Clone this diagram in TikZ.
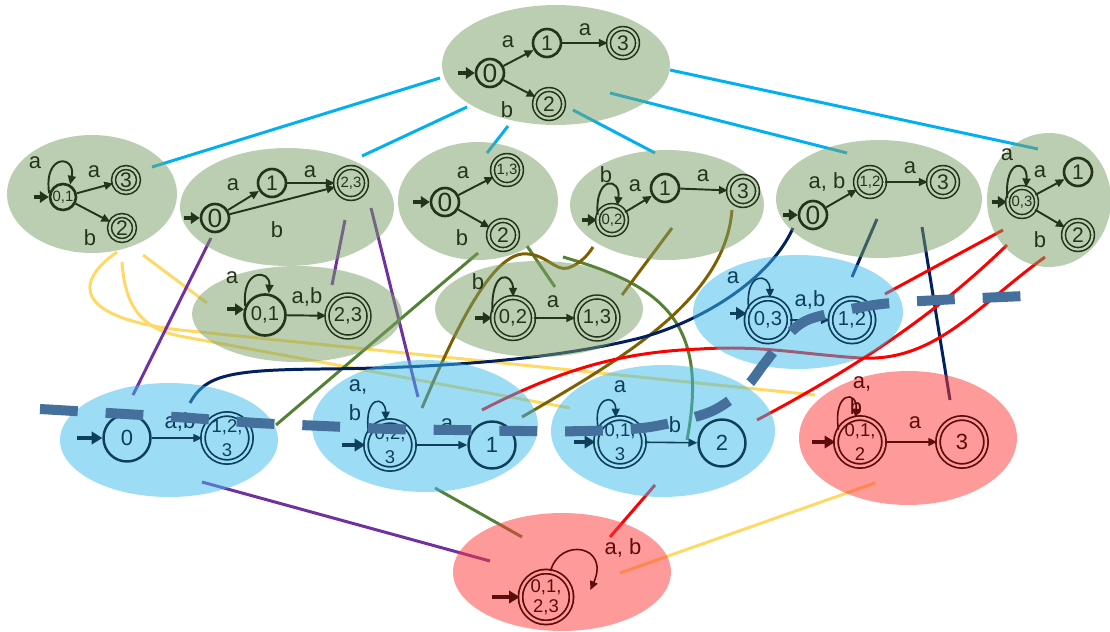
\documentclass[tikz,border=0pt]{standalone}
\usepackage{fontspec}
\setmainfont{Liberation Sans}
\usetikzlibrary{arrows.meta,shapes.geometric}
\definecolor{gfill}{RGB}{123,159,103}
\definecolor{bfill}{RGB}{61,187,237}
\definecolor{rfill}{RGB}{255,55,55}
\definecolor{gvis}{RGB}{189,207,179}
\definecolor{bvis}{RGB}{158,221,246}
\definecolor{rvis}{RGB}{255,155,155}
\definecolor{gdark}{RGB}{36,52,26}
\definecolor{bdark}{RGB}{14,63,90}
\definecolor{rdark}{RGB}{94,11,11}
\definecolor{ccyan}{RGB}{0,176,240}
\definecolor{cyel}{RGB}{255,217,102}
\definecolor{cpur}{RGB}{112,48,160}
\definecolor{cgrn}{RGB}{84,130,53}
\definecolor{cbrn}{RGB}{127,96,0}
\definecolor{cnavy}{RGB}{0,32,96}
\definecolor{cred}{RGB}{255,0,0}
\definecolor{cdash}{RGB}{70,112,156}
\begin{document}
\begin{tikzpicture}[x=0.02cm,y=-0.02cm,
  gblob/.style={ellipse, draw=none, fill=gfill, fill opacity=0.5, inner sep=0pt},
  bblob/.style={ellipse, draw=none, fill=bfill, fill opacity=0.5, inner sep=0pt},
  rblob/.style={ellipse, draw=none, fill=rfill, fill opacity=0.5, inner sep=0pt},
  gs/.style={circle, draw=gdark, line width=1.5pt, inner sep=0pt, minimum size=0.56cm, text=gdark, font=\fontsize{12}{12}\selectfont},
  ga/.style={gs, double=gvis, line width=0.9pt, double distance=1.3pt, minimum size=0.58cm},
  gbig/.style={font=\fontsize{15}{15}\selectfont},
  gsm/.style={font=\fontsize{8.5}{9}\selectfont},
  gmid/.style={font=\fontsize{11.5}{12}\selectfont},
  ge/.style={draw=gdark, line width=1.1pt, -{Triangle[length=5pt,width=4.5pt]}},
  gstart/.style={draw=gdark, line width=2.3pt, -{Triangle[length=5pt,width=6.5pt]}},
  gl/.style={text=gdark, inner sep=0pt, font=\fontsize{12.5}{13}\selectfont},
  bs/.style={circle, draw=bdark, line width=1.4pt, inner sep=0pt, minimum size=0.94cm, text=bdark, font=\fontsize{12.5}{13}\selectfont},
  ba/.style={bs, double=bvis, line width=1pt, double distance=1.4pt, minimum size=0.96cm},
  be/.style={draw=bdark, line width=0.9pt, -{Triangle[length=5pt,width=4.5pt]}},
  bstart/.style={draw=bdark, line width=2pt, -{Triangle[length=6pt,width=7pt]}},
  bl/.style={text=bdark, inner sep=0pt, font=\fontsize{12.5}{13}\selectfont},
  rs/.style={circle, draw=rdark, line width=1.4pt, inner sep=0pt, minimum size=0.94cm, text=rdark, font=\fontsize{12.5}{13}\selectfont},
  ra/.style={rs, double=rvis, line width=1pt, double distance=1.4pt, minimum size=0.96cm},
  re/.style={draw=rdark, line width=0.9pt, -{Triangle[length=5pt,width=4.5pt]}},
  rstart/.style={draw=rdark, line width=2pt, -{Triangle[length=6pt,width=7pt]}},
  rl/.style={text=rdark, inner sep=0pt, font=\fontsize{12.5}{13}\selectfont},
  mtxt/.style={align=center, inner sep=0pt, font=\fontsize{10.5}{14}\selectfont},
  conn/.style={line width=1.7pt},
  bar/.style={draw=cdash, line width=5.7pt, dash pattern=on 21.5pt off 15.9pt}
]
\useasboundingbox (0,0) rectangle (1110,632);
\fill[white] (0,0) rectangle (1110,632);

% ---------- connectors (under the ellipses) ----------
\draw[conn, ccyan] (440,78) -- (152,167);
\draw[conn, ccyan] (467,107) -- (362,156);
\draw[conn, ccyan] (508,126) -- (487,153);
\draw[conn, ccyan] (573,110) -- (655,153);
\draw[conn, ccyan] (610,93) -- (847,153);
\draw[conn, ccyan] (670,70) -- (1038,149);

\draw[conn, cyel] (117,252) .. controls (70,285) and (80,318) .. (180,330) -- (815,395);
\draw[conn, cyel] (122,262) .. controls (125,305) and (140,330) .. (185,337) -- (570,408);
\draw[conn, cyel] (143,255) -- (207,303);
\draw[conn, cyel] (620,573) -- (875,483);

\draw[conn, cpur] (211,238) -- (133,395);
\draw[conn, cpur] (345,220) -- (332,285);
\draw[conn, cpur] (371,208) -- (418,397);
\draw[conn, cpur] (202,482) -- (490,561);

\draw[conn, cgrn] (276,425) -- (478,253);
\draw[conn, cgrn] (527,246) -- (555,287);
\draw[conn, cgrn] (563,257) .. controls (660,285) and (710,320) .. (687,440);
\draw[conn, cgrn] (435,488) -- (522,537);

\draw[conn, cbrn] (422,408) .. controls (455,330) and (490,258) .. (522,254) .. controls (545,252) and (555,272) .. (568,268) .. controls (580,264) and (588,255) .. (593,247);
\draw[conn, cbrn] (672,228) -- (622,295);
\draw[conn, cbrn] (732,210) .. controls (725,300) and (620,360) .. (522,417);

\draw[conn, cnavy] (190,403) .. controls (205,375) and (230,370) .. (320,369) .. controls (450,368) and (560,358) .. (640,338) .. controls (700,322) and (770,280) .. (793,228);
\draw[conn, cnavy] (877,219) -- (852,277);
\draw[conn, cnavy] (922,227) -- (950,400);

\draw[conn, cred] (1003,230) -- (885,294);
\draw[conn, cred] (1007,245) .. controls (950,300) and (880,355) .. (757,420);
\draw[conn, cred] (1045,257) .. controls (975,308) and (935,362) .. (860,358) .. controls (800,354) and (760,345) .. (700,349) .. controls (620,352) and (560,370) .. (482,410);
\draw[conn, cred] (655,485) -- (610,537);

% ---------- ellipses ----------
\node[gblob, minimum width=4.56cm, minimum height=2.4cm] (E1) at (556,65) {};
\node[gblob, minimum width=3.4cm, minimum height=2.36cm] (E2) at (92,194) {};
\node[gblob, minimum width=4.28cm, minimum height=2.36cm] (E3) at (287,207) {};
\node[gblob, minimum width=3.2cm, minimum height=2.36cm] (E4) at (478,201) {};
\node[gblob, minimum width=3.88cm, minimum height=2.2cm] (E5) at (667,205) {};
\node[gblob, minimum width=4.12cm, minimum height=2.36cm] (E6) at (879,199) {};
\node[gblob, minimum width=2.48cm, minimum height=2.68cm] (E7) at (1049,200) {};
\node[gblob, minimum width=4.2cm, minimum height=1.92cm] (E8) at (297,314) {};
\node[gblob, minimum width=4.16cm, minimum height=1.92cm] (E9) at (539,309) {};
\node[bblob, minimum width=4.2cm, minimum height=2.28cm] (E10) at (798,312) {};
\node[bblob, minimum width=4.36cm, minimum height=2.28cm] (E11) at (169,440) {};
\node[bblob, minimum width=4.52cm, minimum height=2.64cm] (E12) at (425,426) {};
\node[bblob, minimum width=4.48cm, minimum height=2.64cm] (E13) at (663,431) {};
\node[rblob, minimum width=4.36cm, minimum height=2.68cm] (E14) at (908,438) {};
\node[rblob, minimum width=4.36cm, minimum height=2.36cm] (E15) at (562,572) {};

% ---------- E1 ----------
\node[gs, gbig] (a0) at (490,73) {0};
\node[gs] (a1) at (547,43) {1};
\node[ga] (a3) at (623,43) {3};
\node[ga] (a2) at (549,104) {2};
\draw[gstart] ([xshift=-0.34cm]a0.west) -- (a0);
\draw[ge] (a0) -- (a1);
\draw[ge] (a1) -- (a3);
\draw[ge] (a0) -- (a2);
\node[gl] (la1) at (508,42) {a};
\node[gl] (la2) at (585,30) {a};
\node[gl] (la3) at (507,110) {b};

% ---------- E2 ----------
\node[gs, gsm, minimum size=0.52cm] (b01) at (63,197) {0,1};
\node[ga, minimum size=0.5cm] (b3) at (126,180) {3};
\node[ga, minimum size=0.5cm] (b2) at (122,228) {2};
\draw[gstart] ([xshift=-0.3cm]b01.west) -- (b01);
\draw[ge] (b01.165) .. controls +(-6,-40) and +(6,-30) .. (b01.60);
\draw[ge] (b01) -- (b3);
\draw[ge] (b01) -- (b2);
\node[gl] (lb1) at (35,163) {a};
\node[gl] (lb2) at (94,172) {a};
\node[gl] (lb3) at (90,238) {b};

% ---------- E3 ----------
\node[gs, gbig] (c0) at (215,218) {0};
\node[gs] (c1) at (272,183) {1};
\node[ga, gsm, minimum size=0.62cm] (c23) at (351,183) {2,3};
\draw[gstart] ([xshift=-0.32cm]c0.west) -- (c0);
\draw[ge] (c0) -- (c1);
\draw[ge] (c1) -- (c23);
\draw[ge] (c0) -- (c23);
\node[gl] (lc1) at (233,185) {a};
\node[gl] (lc2) at (310,172) {a};
\node[gl] (lc3) at (277,230) {b};

% ---------- E4 ----------
\node[gs, gbig] (d0) at (445,202) {0};
\node[ga, gsm] (d13) at (507,170) {1,3};
\node[ga] (d2) at (503,235) {2};
\draw[gstart] ([xshift=-0.34cm]d0.west) -- (d0);
\draw[ge] (d0) -- (d13);
\draw[ge] (d0) -- (d2);
\node[gl] (ld1) at (463,173) {a};
\node[gl] (ld2) at (462,238) {b};

% ---------- E5 ----------
\node[ga, gsm] (e02) at (612,220) {0,2};
\node[gs] (e1) at (665,188) {1};
\node[ga] (e3) at (743,191) {3};
\draw[gstart] ([xshift=-0.3cm]e02.west) -- (e02);
\draw[ge] (e02.160) .. controls +(-3,-40) and +(4,-28) .. (e02.70);
\draw[ge] (e02) -- (e1);
\draw[ge] (e1) -- (e3);
\node[gl] (le1) at (606,175) {b};
\node[gl] (le2) at (635,186) {a};
\node[gl] (le3) at (703,176) {a};

% ---------- E6 ----------
\node[gs, gbig] (f0) at (813,215) {0};
\node[ga, gsm] (f12) at (870,182) {1,2};
\node[ga] (f3) at (943,182) {3};
\draw[gstart] ([xshift=-0.3cm]f0.west) -- (f0);
\draw[ge] (f0) -- (f12);
\draw[ge] (f12) -- (f3);
\node[gl] (lf1) at (827,182) {a, b};
\node[gl] (lf2) at (910,168) {a};

% ---------- E7 ----------
\node[ga, gsm] (h03) at (1022,202) {0,3};
\node[gs] (h1) at (1078,172) {1};
\node[ga] (h2) at (1078,235) {2};
\draw[gstart] ([xshift=-0.3cm]h03.west) -- (h03);
\draw[ge] (h03.165) .. controls +(-3,-40) and +(2,-28) .. (h03.75);
\draw[ge] (h03) -- (h1);
\draw[ge] (h03) -- (h2);
\node[gl] (lh1) at (1007,155) {a};
\node[gl] (lh2) at (1040,172) {a};
\node[gl] (lh3) at (1040,240) {b};

% ---------- E8 ----------
\node[gs, gmid, minimum size=0.82cm] (i01) at (265,315) {0,1};
\node[ga, gmid, minimum size=0.84cm] (i23) at (348,316) {2,3};
\draw[gstart] ([xshift=-0.34cm]i01.165) -- (i01.165);
\draw[ge] (i01.155) .. controls +(-4,-38) and +(2,-24) .. (i01.80);
\draw[ge] (i01) -- (i23);
\node[gl] (li1) at (232,278) {a};
\node[gl] (li2) at (307,297) {a,b};

% ---------- E9 ----------
\node[ga, gmid, minimum size=0.82cm] (j02) at (513,318) {0,2};
\node[ga, gmid, minimum size=0.84cm] (j13) at (597,318) {1,3};
\draw[gstart] ([xshift=-0.34cm]j02.west) -- (j02);
\draw[ge] (j02.165) .. controls +(-2,-45) and +(0,-24) .. (j02.90);
\draw[ge] (j02) -- (j13);
\node[gl] (lj1) at (478,282) {b};
\node[gl] (lj2) at (553,302) {a};

% ---------- E10 ----------
\node[ba, font=\fontsize{11.5}{12}\selectfont, minimum size=0.86cm] (k03) at (768,320) {0,3};
\node[ba, font=\fontsize{11.5}{12}\selectfont, minimum size=0.86cm] (k12) at (852,320) {1,2};
\draw[bstart] ([xshift=-0.34cm]k03.163) -- (k03.163);
\draw[be] (k03.150) .. controls +(-4,-38) and +(0,-25) .. (k03.85);
\draw[be] (k03) -- (k12);
\node[bl] (lk1) at (733,278) {a};
\node[bl] (lk2) at (810,300) {a,b};

% ---------- E11 ----------
\node[bs] (m0) at (127,438) {0};
\node[ba] (m123) at (227,438) {};
\node[mtxt, text=bdark] (m123t) at (m123) {1,2,\\3};
\draw[bstart] ([xshift=-0.5cm]m0.west) -- (m0);
\draw[be] (m0) -- (m123);
\node[bl] (lm1) at (180,422) {a,b};

% ---------- E12 ----------
\node[ba] (n023) at (390,445) {};
\node[mtxt, text=bdark] (n023t) at (n023) {0,2,\\3};
\node[bs] (n1) at (492,445) {1};
\draw[bstart] ([xshift=-0.46cm]n023.west) -- (n023);
\draw[be] (n023.150) .. controls +(-5,-38) and +(0,-25) .. (n023.100);
\draw[be] (n023) -- (n1);
\node[bl] (ln1) at (358,387) {a,};
\node[bl] (ln2) at (355,413) {b};
\node[bl] (ln3) at (447,425) {a};

% ---------- E13 ----------
\node[ba] (o013) at (620,442) {};
\node[mtxt, text=bdark] (o013t) at (o013) {0,1,\\3};
\node[bs] (o2) at (722,443) {2};
\draw[bstart] ([xshift=-0.42cm]o013.west) -- (o013);
\draw[be] (o013.150) .. controls +(-7,-33) and +(0,-25) .. (o013.100);
\draw[be] (o013) -- (o2);
\node[bl] (lo1) at (620,387) {a};
\node[bl] (lo2) at (675,425) {b};

% ---------- E14 ----------
\node[ra] (p012) at (860,442) {};
\node[mtxt, text=rdark] (p012t) at (p012) {0,1,\\2};
\node[ra] (p3) at (962,442) {3};
\draw[rstart] ([xshift=-0.46cm]p012.west) -- (p012);
\draw[re] (p012.150) .. controls +(-6,-38) and +(2,-28) .. (p012.100);
\draw[re] (p012) -- (p3);
\node[rl] (lp1) at (862,384) {a,};
\node[rl] (lp2) at (856,407) {b};
\node[rl] (lp3) at (915,423) {a};

% ---------- E15 ----------
\node[ra, minimum size=1.02cm] (q) at (546,597) {};
\node[mtxt, text=rdark, font=\fontsize{10.5}{11.5}\selectfont] (qt) at (q) {0,1,\\2,3};
\draw[rstart] ([xshift=-0.55cm]q.west) -- (q);
\draw[re] (q.80) .. controls +(9,-34) and +(20,-45) .. ([xshift=0.36cm,yshift=0.14cm]q.east);
\node[rl] (lq1) at (623,548) {a, b};

% ---------- thick dashed bar path (on top) ----------
\draw[bar] plot[smooth, tension=0.5] coordinates {(40,409) (125,414) (191,418) (257,423) (323,426) (390,429) (455,430) (522,431) (588,431) (650,427) (710,412) (745,388) (764,364) (785,338) (810,319) (874,305) (939,300) (1025,296)};
\end{tikzpicture}
\end{document}
